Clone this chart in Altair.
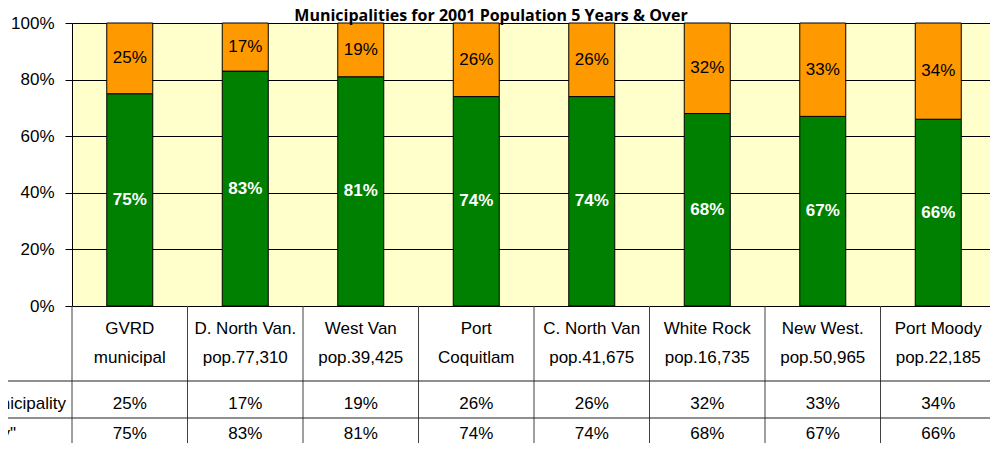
import altair as alt
import pandas as pd
import numpy as np

# ---- data ----
title_text = "Municipalities for 2001 Population 5  Years & Over"
cat_line1 = ["GVRD", "D. North Van.", "West Van", "Port", "C. North Van",
             "White Rock", "New West.", "Port Moody"]
cat_line2 = ["municipal", "pop.77,310", "pop.39,425", "Coquitlam", "pop.41,675",
             "pop.16,735", "pop.50,965", "pop.22,185"]
outside_pct = [25, 17, 19, 26, 26, 32, 33, 34]
inside_pct = [75, 83, 81, 74, 74, 68, 67, 66]
row_labels = ["Work outside Municipality", 'Work in "Community"']
series_names = ["outside", "inside"]
series_colors = ["#FF9900", "#008000"]
y_ticks = [0, 20, 40, 60, 80, 100]

FONT = "Liberation Sans"
W, H = 918, 283          # visible plot area (page is 998 px wide)
XR = 924                 # full width of the 8 table columns
n = len(cat_line1)
pos = np.arange(n) + 0.5

rows = []
for i in range(n):
    rows.append(dict(pos=pos[i], series="inside", v=inside_pct[i],
                     y0=0, y1=inside_pct[i]))
    rows.append(dict(pos=pos[i], series="outside", v=outside_pct[i],
                     y0=inside_pct[i], y1=inside_pct[i] + outside_pct[i]))
bars_df = pd.DataFrame(rows)
bars_df["mid"] = (bars_df["y0"] + bars_df["y1"]) / 2
bars_df["label"] = bars_df["v"].astype(str) + "%"

table_df = pd.DataFrame({
    "pos": pos, "l1": cat_line1, "l2": cat_line2,
    "o": [f"{v}%" for v in outside_pct], "i": [f"{v}%" for v in inside_pct],
})
bounds_df = pd.DataFrame({"b": np.arange(n + 1)})
one = pd.DataFrame({"a": [0]})

xs = alt.Scale(domain=[0, n], range=[0, XR], nice=False, zero=False, padding=0)
ys = alt.Scale(domain=[0, 100], nice=False, padding=0)

base = alt.Chart(bars_df)

bars = base.mark_bar(stroke="black", strokeWidth=1, width=46).encode(
    x=alt.X("pos:Q", scale=xs, axis=None),
    y=alt.Y("y0:Q", scale=ys, axis=alt.Axis(
        values=y_ticks, labelExpr="datum.value + '%'", title=None,
        tickSize=7, tickColor="black", domainColor="black",
        labelFont=FONT, labelFontSize=17, labelColor="black", labelPadding=11,
        grid=True, gridColor="black", gridOpacity=1)),
    y2="y1:Q",
    color=alt.Color("series:N", scale=alt.Scale(domain=series_names, range=series_colors),
                    legend=None),
)

lab_out = base.transform_filter("datum.series == 'outside'").mark_text(
    font=FONT, fontSize=17, color="black", baseline="middle", align="center"
).encode(x=alt.X("pos:Q", scale=xs), y=alt.Y("mid:Q", scale=ys), text="label:N")

lab_in = base.transform_filter("datum.series == 'inside'").mark_text(
    font=FONT, fontSize=17, fontWeight="bold", color="white", baseline="middle", align="center"
).encode(x=alt.X("pos:Q", scale=xs), y=alt.Y("mid:Q", scale=ys), text="label:N")

tbase = alt.Chart(table_df)
tkw = dict(font=FONT, fontSize=17, color="black", align="center", baseline="alphabetic")
t1 = tbase.mark_text(**tkw).encode(x=alt.X("pos:Q", scale=xs), y=alt.value(310.5), text="l1:N")
t2 = tbase.mark_text(**tkw).encode(x=alt.X("pos:Q", scale=xs), y=alt.value(340), text="l2:N")
t3 = tbase.mark_text(**tkw).encode(x=alt.X("pos:Q", scale=xs), y=alt.value(385.5), text="o:N")
t4 = tbase.mark_text(**tkw).encode(x=alt.X("pos:Q", scale=xs), y=alt.value(416), text="i:N")

rkw = dict(font=FONT, fontSize=17, color="black", align="right", baseline="alphabetic")
r1 = alt.Chart(one).mark_text(text=row_labels[0], **rkw).encode(x=alt.value(-6), y=alt.value(385.5))
r2 = alt.Chart(one).mark_text(text=row_labels[1], **rkw).encode(x=alt.value(-56), y=alt.value(416))

vlines = alt.Chart(bounds_df).mark_rule(color="#404040", strokeWidth=1).encode(
    x=alt.X("b:Q", scale=xs), y=alt.value(H), y2=alt.value(440))
h1 = alt.Chart(one).mark_rule(color="#202020", strokeWidth=1).encode(
    x=alt.value(-80), x2=alt.value(XR), y=alt.value(358))
h2 = alt.Chart(one).mark_rule(color="#202020", strokeWidth=1).encode(
    x=alt.value(-80), x2=alt.value(XR), y=alt.value(395))

title = alt.Chart(one).mark_text(
    text=title_text, font="Open Sans", fontWeight="bold", fontSize=16, color="black",
    align="center", baseline="alphabetic").encode(x=alt.value(419), y=alt.value(-2.5))

chart = alt.layer(bars, lab_out, lab_in, t1, t2, t3, t4, r1, r2, vlines, h1, h2, title).properties(
    width=W, height=H,
    autosize=alt.AutoSizeParams(type="none"),
    padding={"left": 64, "top": 15, "right": 0, "bottom": 137},
    background="white",
).configure_view(fill="#FFFFCC", stroke="#808080", strokeWidth=1)

chart.save("out.html", embed_options={"renderer": "svg", "actions": False})
